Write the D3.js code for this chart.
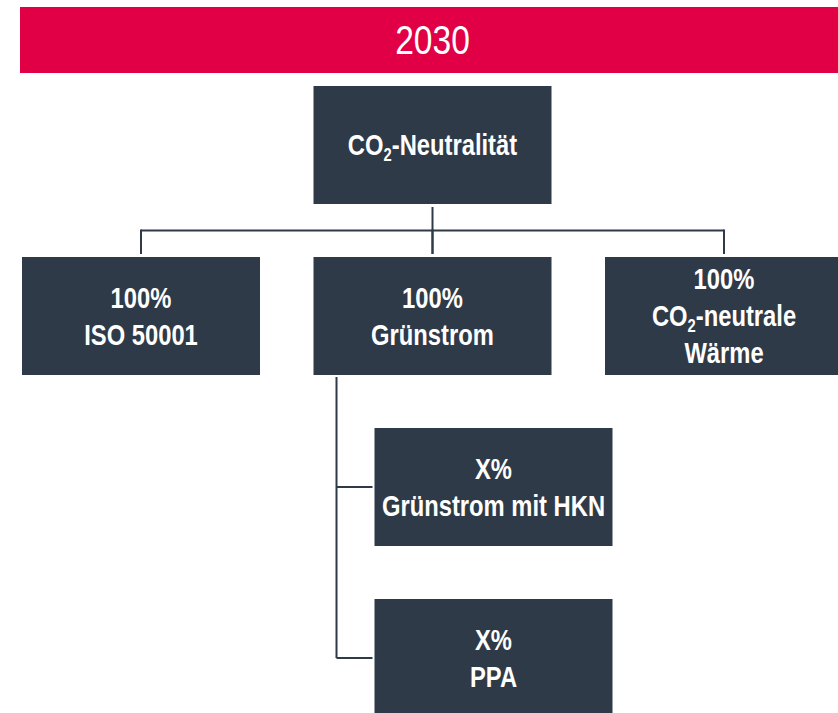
<!DOCTYPE html>
<html>
<head>
<meta charset="utf-8">
<script src="https://cdn.jsdelivr.net/npm/d3@7"></script>
<style>
	body {margin: 0; background: #fff;}
	svg {display: block;}
	text {font-family: "Liberation Sans", Arial, sans-serif; fill: #fff;}
</style>
</head>
<body>
<div id="chart"></div>
<script>
// chart content
var title = "2030";
var rootLabel = ["CO₂-Neutralität"];
var pillars = [
	["100%", "ISO 50001"],
	["100%", "Grünstrom"],
	["100%", "CO₂-neutrale", "Wärme"]
];
var greenSources = [
	["X%", "Grünstrom mit HKN"],
	["X%", "PPA"]
];

var width = 838, height = 713;
var red = "#e10046", navy = "#2f3a48";
var narrow = 0.82; // squeeze Liberation Sans to a condensed look

var svg = d3.select("#chart").append("svg")
	.attr("width", width)
	.attr("height", height);

// rows: root, pillars, then one row per green source
var rows = d3.range(2 + greenSources.length);
var yScale = d3.scaleBand().domain(rows)
	.range([86, 86 + rows.length * 171 - 53])
	.paddingInner(53 / 171).paddingOuter(0);

// columns for the pillar row
var xScale = d3.scaleBand().domain(d3.range(pillars.length))
	.range([22, 22 + pillars.length * 291.5 - 53.5])
	.paddingInner(53.5 / 291.5).paddingOuter(0);

var boxW = xScale.bandwidth(), boxH = yScale.bandwidth();
var indent = 61;   // child boxes of "Grünstrom"
var trunk = 23;    // elbow line offset inside the parent column
var fontSize = 29, lineH = 37;

// header banner
svg.append("rect")
	.attr("x", 20).attr("y", 7)
	.attr("width", width - 20).attr("height", 66)
	.style("fill", red);

svg.append("g")
	.attr("transform", "translate(" + (xScale(1) + boxW / 2) + ",0) scale(0.84,1)")
	.append("text")
	.attr("x", 0)
	.attr("y", 40 + 0.36 * 40)
	.attr("text-anchor", "middle")
	.style("font-size", "40px")
	.text(title);

// write a multi-line label, with "₂" drawn as a subscript
function label(lines, cx, cy) {
	var t = svg.append("g")
		.attr("transform", "translate(" + cx + ",0) scale(" + narrow + ",1)")
		.append("text")
		.attr("text-anchor", "middle")
		.style("font-size", fontSize + "px")
		.style("font-weight", "bold");
	lines.forEach(function(line, i) {
		var y = cy - (lines.length - 1) / 2 * lineH + 0.36 * fontSize + i * lineH;
		var parts = line.split("₂");
		t.append("tspan").attr("x", 0).attr("y", y).text(parts[0]);
		if (parts.length > 1) {
			t.append("tspan").style("font-size", (fontSize * 0.62) + "px")
				.attr("dy", 6).text("2");
			t.append("tspan").attr("dy", -6).text(parts[1]);
		}
	});
}

function box(x, y, lines) {
	svg.append("rect")
		.attr("x", x).attr("y", y)
		.attr("width", boxW).attr("height", boxH)
		.style("fill", navy);
	label(lines, x + boxW / 2, y + boxH / 2);
}

// connectors
var line = d3.line();
function connector(pts) {
	svg.append("path")
		.attr("d", line(pts))
		.style("fill", "none")
		.style("stroke", navy)
		.style("stroke-width", 2);
}

var rootX = xScale(1) + boxW / 2;
var busY = (yScale(0) + boxH + yScale(1)) / 2;
connector([[rootX, yScale(0) + boxH + 3], [rootX, yScale(1) - 3]]);
connector([[xScale(0) + boxW / 2, busY], [xScale(pillars.length - 1) + boxW / 2, busY]]);
pillars.forEach(function(p, i) {
	connector([[xScale(i) + boxW / 2, busY - 1], [xScale(i) + boxW / 2, yScale(1) - 3]]);
});

var trunkX = xScale(1) + trunk;
var lastY = yScale(1 + greenSources.length) + boxH / 2;
connector([[trunkX, yScale(1) + boxH + 2], [trunkX, lastY]]);
greenSources.forEach(function(s, i) {
	var y = yScale(2 + i) + boxH / 2;
	connector([[trunkX, y], [xScale(1) + indent - 2, y]]);
});

// boxes
box(xScale(1), yScale(0), rootLabel);
pillars.forEach(function(p, i) { box(xScale(i), yScale(1), p); });
greenSources.forEach(function(s, i) { box(xScale(1) + indent, yScale(2 + i), s); });
</script>
</body>
</html>
